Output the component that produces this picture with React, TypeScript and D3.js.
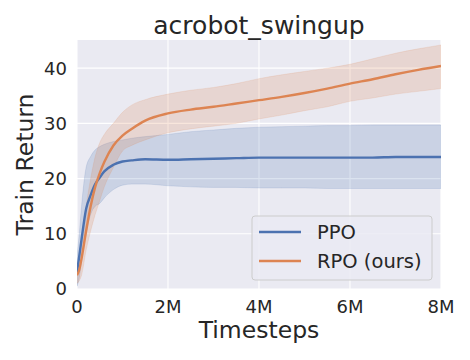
import React from "react";
import * as d3 from "d3";

// timesteps in millions
const steps = [0, 0.05, 0.1, 0.2, 0.3, 0.4, 0.5, 0.6, 0.8, 1, 1.2, 1.5, 2, 2.5, 3, 3.5, 4, 4.5, 5, 5.5, 6, 6.5, 7, 7.5, 8];

const ppoMean = [3, 6, 9, 14.5, 17, 19, 20.2, 21.3, 22.5, 23.1, 23.3, 23.5, 23.4, 23.5, 23.6, 23.7, 23.8, 23.8, 23.8, 23.8, 23.8, 23.8, 23.9, 23.9, 23.9];
const ppoHigh = [6, 10, 15, 22, 24, 25.2, 25.8, 26.2, 26.7, 27, 27.3, 27.6, 28, 28.5, 28.8, 29.1, 29.3, 29.4, 29.5, 29.6, 29.6, 29.7, 29.7, 29.7, 29.7];
const ppoLow = [0.5, 2, 5, 10, 13.5, 15, 15.5, 16.5, 18, 18.8, 19, 19, 18.7, 18.5, 18.4, 18.4, 18.3, 18.3, 18.3, 18.2, 18.2, 18.2, 18.2, 18.2, 18.2];

const rpoMean = [2.5, 3.5, 5.5, 10.5, 15, 18.5, 21, 23, 26, 27.8, 29, 30.5, 31.8, 32.5, 33, 33.6, 34.2, 34.8, 35.5, 36.3, 37.2, 38, 38.9, 39.7, 40.4];
const rpoHigh = [4, 6, 9, 15, 20, 24, 26.5, 28, 30, 32, 33.3, 34.3, 35.3, 36, 36.5, 37.2, 38.1, 38.8, 39.4, 40, 40.7, 41.7, 42.7, 43.5, 44.2];
const rpoLow = [1, 1.5, 2.5, 7, 10.5, 13.5, 16, 18.5, 22, 25, 26, 27, 28.3, 29, 29.5, 30, 30.8, 31.5, 32.3, 33, 34, 34.6, 35.3, 35.8, 36.3];

const xTicks = [0, 2, 4, 6, 8];
const xTickLabels = ["0", "2M", "4M", "6M", "8M"];
const yTicks = [0, 10, 20, 30, 40];

const seriesNames = ["PPO", "RPO (ours)"];
const colors = ["#4c72b0", "#dd8452"];

const W = 470;
const H = 360;
const margin = { left: 77, right: 29, top: 40, bottom: 71 };
const FONT = "DejaVu Sans, sans-serif";
const TEXT = "#262626";

export default function App() {
  const x = d3.scaleLinear().domain([0, 8]).range([margin.left, W - margin.right]);
  const y = d3.scaleLinear().domain([0, 45.1]).range([H - margin.bottom, margin.top]);

  const series = [
    { mean: ppoMean, hi: ppoHigh, lo: ppoLow },
    { mean: rpoMean, hi: rpoHigh, lo: rpoLow },
  ];

  const line = d3
    .line<number>()
    .x((_, i) => x(steps[i]))
    .y((d) => y(d))
    .curve(d3.curveMonotoneX);

  const band = (hi: number[], lo: number[]) =>
    d3
      .area<number>()
      .x((_, i) => x(steps[i]))
      .y0((_, i) => y(lo[i]))
      .y1((_, i) => y(hi[i]))
      .curve(d3.curveMonotoneX)(steps) as string;

  const [x0, x1] = x.range();
  const [yb, yt] = y.range();

  const lgX = 252;
  const lgY = 216;

  return (
    <svg width={W} height={H} style={{ position: "absolute", left: 0, top: 0 }} fontFamily={FONT}>
      <rect width={W} height={H} fill="#ffffff" />
      <rect x={x0} y={yt} width={x1 - x0} height={yb - yt} fill="#eaeaf2" />
      <defs>
        <clipPath id="plot">
          <rect x={x0} y={yt} width={x1 - x0} height={yb - yt} />
        </clipPath>
      </defs>
      {xTicks.map((t) => (
        <line key={"gx" + t} x1={x(t)} x2={x(t)} y1={yt} y2={yb} stroke="#fff" strokeWidth={1.1} />
      ))}
      {yTicks.map((t) => (
        <line key={"gy" + t} x1={x0} x2={x1} y1={y(t)} y2={y(t)} stroke="#fff" strokeWidth={1.1} />
      ))}
      <g clipPath="url(#plot)">
        {series.map((s, i) => (
          <path key={"b" + i} d={band(s.hi, s.lo)} fill={colors[i]} fillOpacity={0.2} stroke={colors[i]} strokeOpacity={0.15} />
        ))}
        {series.map((s, i) => (
          <path key={"l" + i} d={line(s.mean) as string} fill="none" stroke={colors[i]} strokeWidth={2.4} />
        ))}
      </g>
      {xTicks.map((t, i) => (
        <text key={"tx" + t} x={x(t)} y={313} textAnchor="middle" fontSize={18} fill={TEXT}>
          {xTickLabels[i]}
        </text>
      ))}
      {yTicks.map((t) => (
        <text key={"ty" + t} x={67} y={y(t)} dy="0.36em" textAnchor="end" fontSize={18} fill={TEXT}>
          {t}
        </text>
      ))}
      <text x={(x0 + x1) / 2} y={34} textAnchor="middle" fontSize={25} fill={TEXT}>
        acrobot_swingup
      </text>
      <text x={(x0 + x1) / 2} y={338} textAnchor="middle" fontSize={23.5} fill={TEXT}>
        Timesteps
      </text>
      <text
        transform={`translate(33,${(yt + yb) / 2}) rotate(-90)`}
        textAnchor="middle"
        fontSize={23.5}
        fill={TEXT}
      >
        Train Return
      </text>
      <g>
        <rect x={lgX} y={lgY} width={180} height={64} rx={3} fill="#eaeaf2" fillOpacity={0.8} stroke="#cccccc" />
        {seriesNames.map((n, i) => (
          <g key={n}>
            <line x1={lgX + 7} x2={lgX + 49} y1={lgY + 16 + i * 29} y2={lgY + 16 + i * 29} stroke={colors[i]} strokeWidth={2.4} />
            <text x={lgX + 65} y={lgY + 16 + i * 29} dy="0.36em" fontSize={19.5} fill={TEXT}>
              {n}
            </text>
          </g>
        ))}
      </g>
    </svg>
  );
}
